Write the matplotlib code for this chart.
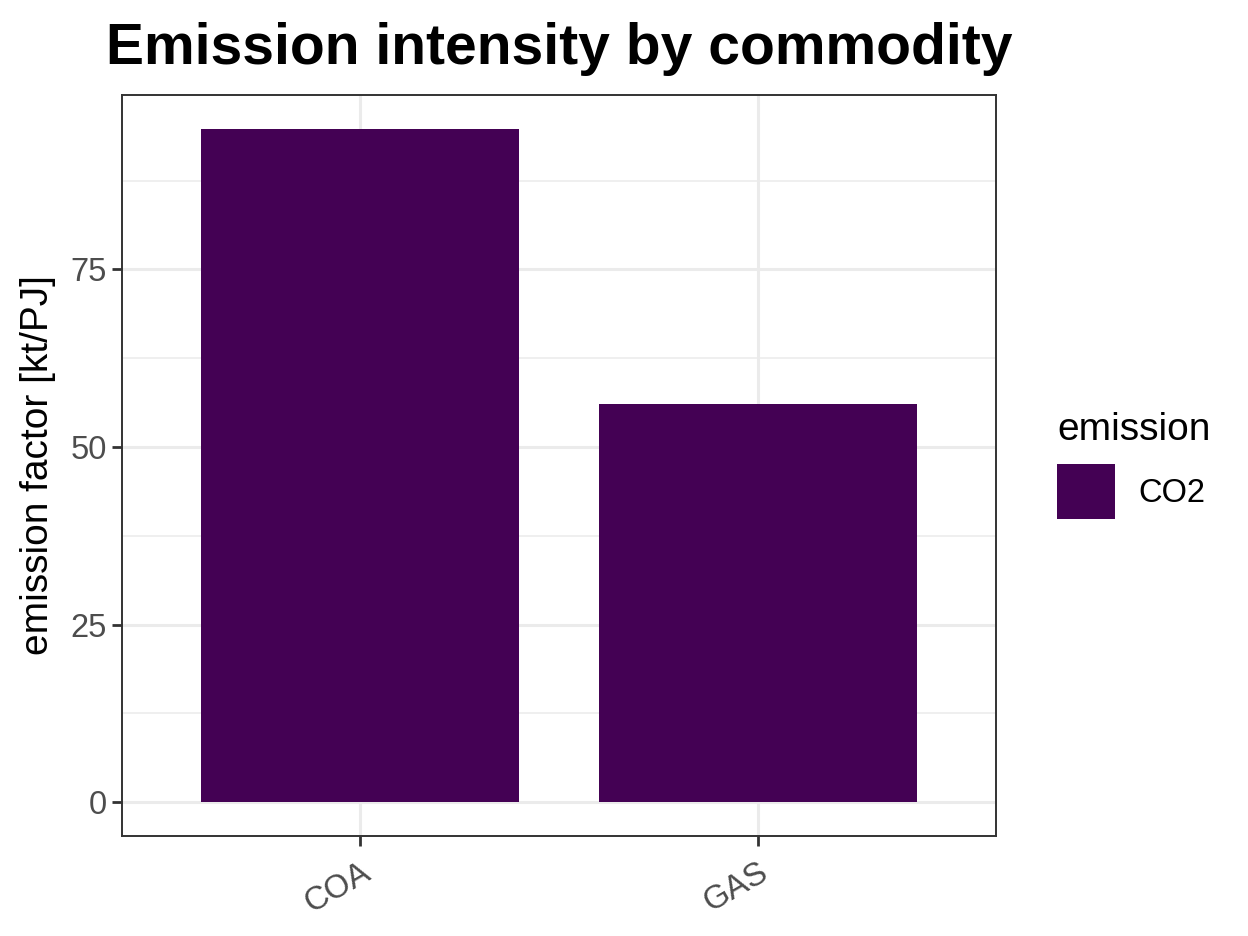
import matplotlib.pyplot as plt
import numpy as np

commodities = ["COA", "GAS"]
co2_factor = [94.8, 56.0]
emission = "CO2"
y_ticks = [0, 25, 50, 75]
y_minor = [12.5, 37.5, 62.5, 87.5]

plt.rcParams["font.family"] = ["Liberation Sans", "DejaVu Sans"]

fig = plt.figure(figsize=(12.48, 9.36), dpi=100)
ax = fig.add_axes([122 / 1248, 1 - 836 / 936, (996 - 122) / 1248, (836 - 95) / 936])

x = np.arange(1, len(commodities) + 1)
ax.bar(x, co2_factor, width=0.8, color="#440154", label=emission, zorder=3)

ymax = max(co2_factor)
ax.set_ylim(-0.05 * ymax, 1.05 * ymax)
ax.set_xlim(0.4, len(commodities) + 0.6)

ax.set_yticks(y_ticks)
ax.set_yticks(y_minor, minor=True)
ax.set_xticks(x)
ax.set_xticklabels(commodities, rotation=30, ha="right", rotation_mode="anchor")

ax.grid(which="major", color="#EBEBEB", linewidth=2.2, zorder=0)
ax.grid(which="minor", axis="y", color="#EBEBEB", linewidth=1.1, zorder=0)
ax.set_axisbelow(True)

for s in ax.spines.values():
    s.set_color("#333333")
    s.set_linewidth(1.4)

ax.tick_params(axis="both", which="major", length=7, width=2, color="#333333",
               labelcolor="#4D4D4D", labelsize=23.5, pad=4)
ax.tick_params(axis="x", pad=8)
ax.tick_params(which="minor", length=0)

ax.set_ylabel("emission factor [kt/PJ]", fontsize=28, labelpad=10)
ax.set_title("Emission intensity by commodity", fontsize=41, fontweight="bold", pad=22)

leg = ax.legend(loc="center left", bbox_to_anchor=(1.07, 0.5), frameon=False,
                title="emission", fontsize=23.5, title_fontsize=28,
                handlelength=1.78, handleheight=2.2, handletextpad=0.7,
                borderaxespad=0, borderpad=0)
leg._legend_box.align = "left"

fig.savefig("out.png", dpi=100)
